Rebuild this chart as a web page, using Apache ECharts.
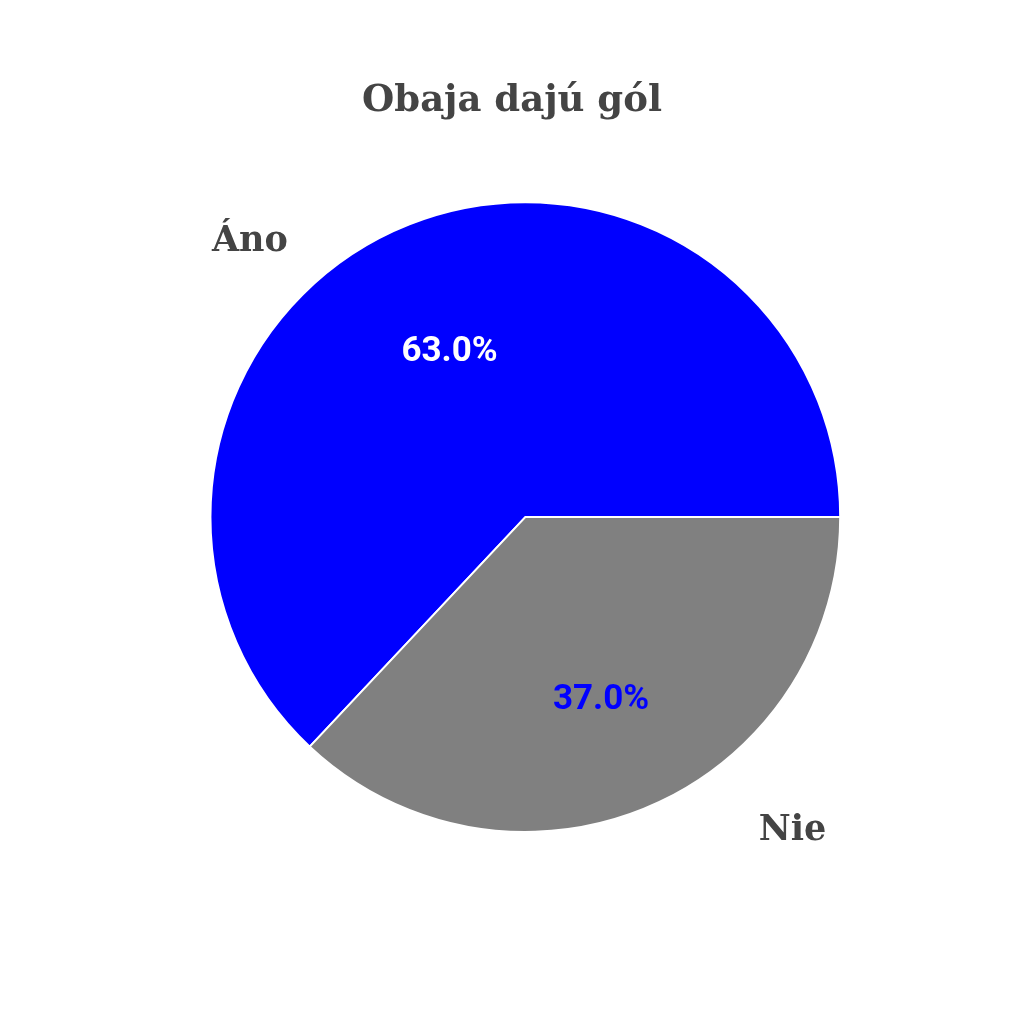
<!DOCTYPE html>
<html>
<head>
<meta charset="utf-8">
<title>Obaja dajú gól</title>
<script src="https://cdn.jsdelivr.net/npm/echarts@6/dist/echarts.min.js"></script>
<style>
  html, body { margin: 0; padding: 0; background: #fff; }
  #chart { width: 1024px; height: 1024px; }
</style>
</head>
<body>
<div id="chart"></div>
<script>
const titleText = 'Obaja dajú gól'
const categories = ['Áno', 'Nie']
const values = [63.0, 37.0]
const sliceColors = ['#0000ff', '#808080']
const pctColors = ['#ffffff', '#0000ff']

const myChart = echarts.init(document.getElementById('chart'))

const data = categories.map((name, i) => ({
  name: name,
  value: values[i],
  itemStyle: { color: sliceColors[i] }
}))

// nudge for the inner percentage labels (pushed a bit outward)
const pctShift = [[-12, -18], [12, 36]]
// name labels sit outside the pie, not at the slice middle
const namePos = [['24.4%', '23.6%'], ['77.4%', '81.1%']]

const pieBase = {
  type: 'pie',
  center: ['51.3%', '50.5%'],
  radius: '61.5%',
  startAngle: 0,
  clockwise: false,
  data: data
}

const option = {
  backgroundColor: '#ffffff',
  animation: false,
  title: {
    text: titleText,
    left: 'center',
    top: 78,
    textStyle: {
      fontFamily: 'DejaVu Serif',
      fontWeight: 'bold',
      fontSize: 37,
      color: '#444444'
    }
  },
  series: [
    Object.assign({}, pieBase, {
      name: 'pct',
      itemStyle: { borderColor: '#ffffff', borderWidth: 2 },
      label: {
        show: true,
        position: 'inside',
        formatter: p => p.value.toFixed(1) + '%',
        fontFamily: 'Roboto',
        fontWeight: 'bold',
        fontSize: 35,
        color: '#ffffff'
      },
      labelLine: { show: false },
      labelLayout: p => ({ dx: pctShift[p.dataIndex][0], dy: pctShift[p.dataIndex][1] }),
      data: data.map((d, i) => Object.assign({}, d, { label: { color: pctColors[i] } }))
    }),
    Object.assign({}, pieBase, {
      name: 'names',
      silent: true,
      itemStyle: { color: 'rgba(0,0,0,0)' },
      label: {
        show: true,
        position: 'outside',
        formatter: '{b}',
        fontFamily: 'DejaVu Serif',
        fontWeight: 'bold',
        fontSize: 35,
        color: '#444444'
      },
      labelLine: { show: false },
      labelLayout: p => ({
        x: namePos[p.dataIndex][0],
        y: namePos[p.dataIndex][1],
        align: 'center',
        verticalAlign: 'middle'
      }),
      data: data.map(d => ({ name: d.name, value: d.value, itemStyle: { color: 'rgba(0,0,0,0)' } }))
    })
  ]
}

myChart.setOption(option)
</script>
</body>
</html>
